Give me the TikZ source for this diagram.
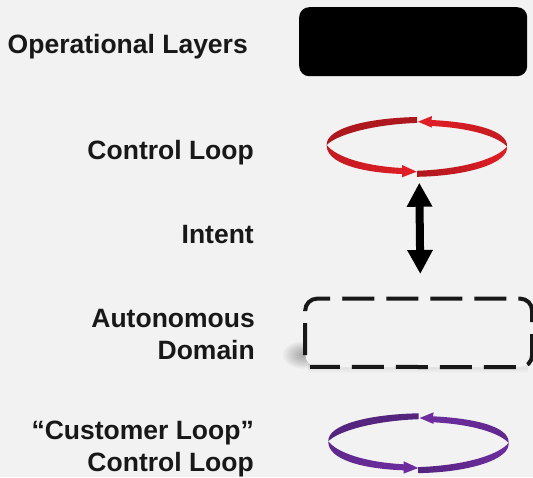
\documentclass[tikz,border=0pt]{standalone}
\usepackage{fontspec}
\setmainfont{Liberation Sans}
\usetikzlibrary{arrows.meta}
\definecolor{bg}{HTML}{F2F2F2}
\definecolor{redA}{HTML}{E21E26}
\definecolor{redB}{HTML}{AE171D}
\definecolor{purA}{HTML}{6F2DA0}
\definecolor{purB}{HTML}{54247F}
\newcommand{\ringloop}[4]{%
 \begin{scope}[shift={(#1,#2)}]
  \shade[left color=#4,right color=#4] (417,117) .. controls (368,118) and (326,128) .. (326.7,145)
     .. controls (336,135) and (372,124.5) .. (417,122.9) -- cycle;
  \shade[left color=#3,middle color=#3,right color=#4!60!#3] (418,121.7) -- (432,116) -- (431.5,120)
     .. controls (472,122) and (508,130) .. (507,146.5)
     .. controls (498,137) and (472,128) .. (431.5,126) -- (432,127.7) -- cycle;
  \shade[left color=#4!60!#3,middle color=#3,right color=#3] (326.7,145)
     .. controls (336,157) and (365,166) .. (402,168) -- (402,165) -- (416.7,171.7) -- (402,177.3) -- (402,174)
     .. controls (360,172.5) and (326,163) .. (326.7,145) -- cycle;
  \shade[left color=#4,middle color=#4!45!#3,right color=#3] (417,170.8) .. controls (465,169) and (498,158) .. (507,146.5)
     .. controls (509,163) and (468,176) .. (417,176.8) -- cycle;
 \end{scope}}
\tikzset{
 lbl/.style={anchor=east,align=right,font=\fontsize{26.5}{32}\selectfont\bfseries,inner sep=0pt,text=black!90!bg},
 solidbox/.style={fill=black,rounded corners=10pt,minimum width=228pt,minimum height=69pt,inner sep=0pt,anchor=north west},
 dashbox/.style={fill=bg,rounded corners=12pt,minimum width=226.5pt,minimum height=68.2pt,inner sep=0pt,anchor=north west},
 dashline/.style={draw=black!90!bg,line width=4pt,rounded corners=12pt,dash pattern=on 32pt off 12pt},
 bigarrow/.style={{Triangle[width=24pt,length=24pt]}-{Triangle[width=24pt,length=24pt]},line width=8pt,black}
}
\begin{document}
\begin{tikzpicture}[x=1pt,y=-1pt]
\useasboundingbox (0,0) rectangle (533,477);
\fill[bg] (0,0) rectangle (533,477);
% soft shadow of the dashed box
\foreach \r in {3,5,...,21}{
  \fill[black,opacity=0.03] (304,355) ellipse [x radius=\r pt,y radius=0.65*\r pt];
}
\foreach \r in {1,2,...,5}{
  \fill[black,opacity=0.012] (308,362) rectangle (528,368+\r);
}
\node[solidbox] (ops) at (299,7) {};
\node[dashbox] (dom) at (305.2,298.6) {};
\coordinate (dstart) at (342.3,298.6);
\coordinate (dleft) at (305.2,355);
\coordinate (dbot) at (310,366.8);
\draw[dashline] (dstart) -- (dom.north east) -- (dom.south east) -- (dbot);
\draw[dashline] (dleft) -- (dom.north west) -- (dstart);
\ringloop{0}{0}{redA}{redB}
\ringloop{1.6}{296.3}{purA}{purB}
\coordinate (up) at (419.3,182.7);
\coordinate (down) at (420.3,274);
\draw[bigarrow] (up) -- (down);
\node[lbl] (t1) at (248,46.5) {Operational Layers};
\node[lbl] (t2) at (254,152.5) {Control Loop};
\node[lbl] (t3) at (254,235) {Intent};
\node[lbl] (t4) at (255,334.5) {Autonomous\\Domain};
\node[lbl] (t5) at (254,448.5) {“Customer Loop”\\Control Loop};
\end{tikzpicture}
\end{document}
